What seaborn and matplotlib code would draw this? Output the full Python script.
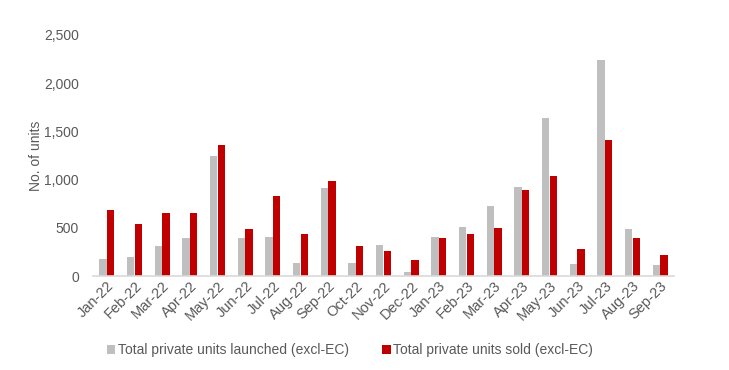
import numpy as np
import pandas as pd
import seaborn as sns
import matplotlib
matplotlib.use('Agg')
import matplotlib.pyplot as plt
from matplotlib.ticker import FuncFormatter, FixedLocator

months = ['Jan-22', 'Feb-22', 'Mar-22', 'Apr-22', 'May-22', 'Jun-22', 'Jul-22',
          'Aug-22', 'Sep-22', 'Oct-22', 'Nov-22', 'Dec-22', 'Jan-23', 'Feb-23',
          'Mar-23', 'Apr-23', 'May-23', 'Jun-23', 'Jul-23', 'Aug-23', 'Sep-23']
launched = [180, 194, 311, 398, 1245, 398, 405, 135, 913, 135, 318, 41, 405, 512,
            726, 923, 1642, 128, 2244, 491, 114]
sold = [681, 539, 654, 657, 1355, 488, 833, 436, 985, 311, 259, 166, 394, 436,
        494, 892, 1037, 280, 1411, 394, 214]
series_names = ['Total private units launched (excl-EC)', 'Total private units sold (excl-EC)']

df = pd.DataFrame({'month': months * 2,
                   'units': launched + sold,
                   'series': [series_names[0]] * len(months) + [series_names[1]] * len(months)})

sns.set_style('white')
plt.rcParams['font.family'] = ['Liberation Sans', 'DejaVu Sans']

fig = plt.figure(figsize=(7.29, 3.70), dpi=100)
ax = fig.add_axes([93 / 729, 1 - 276 / 370, (674 - 93) / 729, (276 - 35) / 370])

sns.barplot(data=df, x='month', y='units', hue='series', order=months,
            hue_order=series_names, palette=['#BFBFBF', '#C00000'], saturation=1,
            width=0.55, gap=0.05, linewidth=0, ax=ax, legend=True)

ax.set_ylim(0, 2500)
ax.set_xlim(-0.5, len(months) - 0.5)
ax.set_yticks(range(0, 2501, 500))
ax.yaxis.set_major_formatter(FuncFormatter(lambda v, p: f'{int(v):,}'))
ax.set_ylabel('No. of units', color='#595959', fontsize=10, labelpad=1)
ax.set_xlabel('')

for s in ['top', 'right', 'left']:
    ax.spines[s].set_visible(False)
ax.spines['bottom'].set_color('#D9D9D9')
ax.spines['bottom'].set_linewidth(1.2)

ax.tick_params(axis='y', length=0, labelsize=10, labelcolor='#595959', pad=10)
ax.tick_params(axis='x', which='major', length=0, labelsize=10.5, labelcolor='#595959', pad=2)
plt.setp(ax.get_xticklabels(), rotation=45, ha='right', rotation_mode='anchor')
ax.xaxis.set_minor_locator(FixedLocator(np.arange(-0.5, len(months), 1.0)))
ax.tick_params(axis='x', which='minor', length=4, width=1.2, color='#D9D9D9', direction='out')

ax.legend(loc='center', bbox_to_anchor=(350 / 729, 1 - 350 / 370), bbox_transform=fig.transFigure,
          ncol=2, frameon=False, fontsize=10, handlelength=0.6, handleheight=0.6,
          handletextpad=0.2, columnspacing=2.4, labelcolor='#595959')

fig.savefig('out.png', dpi=100)
